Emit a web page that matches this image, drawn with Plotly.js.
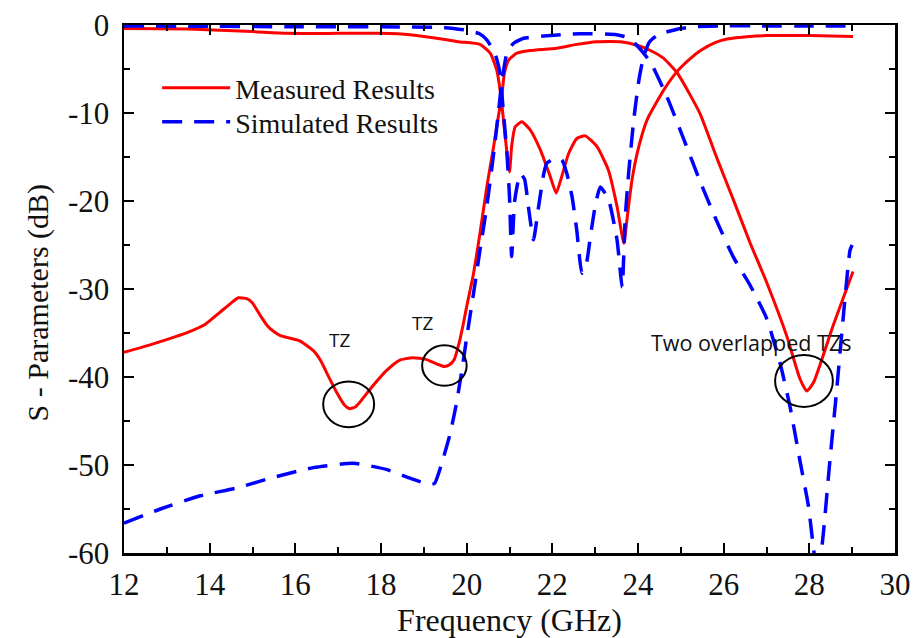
<!DOCTYPE html>
<html>
<head>
<meta charset="utf-8">
<script src="https://cdn.plot.ly/plotly-3.0.1.min.js"></script>
<style>html,body{margin:0;padding:0;background:#fff;}#chart{width:916px;height:638px;}</style>
</head>
<body>
<div id="chart"></div>
<script>
// Measured S21
const measS21Freq = [12, 12.7, 13.5, 13.9, 14.25, 14.5, 14.67, 14.87, 15.0, 15.18, 15.35, 15.49, 15.65, 15.8, 16.1, 16.42, 16.6, 16.73, 16.96, 17.15, 17.27, 17.4, 17.5, 17.81, 18.12, 18.43, 18.74, 19.05, 19.29, 19.48, 19.6, 19.71, 19.83, 19.92, 20.0, 20.15, 20.31, 20.47, 20.63, 20.74, 20.82, 20.88, 20.98, 21.17, 21.48, 22.1, 22.57, 23.04, 23.59, 23.98, 24.29, 24.6, 24.91, 25.2, 25.46, 25.84, 26.23, 26.62, 27.0, 27.47, 27.78, 27.94, 28.1, 28.56, 29.02];
const measS21dB = [-37.2, -36.2, -34.9, -34, -32.6, -31.6, -31.0, -31.1, -31.6, -33, -34.2, -34.8, -35.3, -35.5, -35.9, -37, -38.2, -39.5, -41.7, -43.2, -43.6, -43.4, -42.9, -41, -39.3, -38.1, -37.8, -38, -38.5, -38.8, -38.6, -38, -36, -34, -32, -28.5, -23.7, -18.4, -13.8, -10.4, -8.1, -5.5, -4.0, -3.2, -2.9, -2.65, -2.2, -1.9, -1.9, -2.3, -2.9, -3.8, -5.4, -7.8, -10.2, -15.1, -19.9, -24.8, -29.2, -35.3, -40.2, -41.6, -40.6, -34.1, -28];

// Measured S11
const measS11Freq = [12, 13.5, 15.0, 15.8, 17.0, 17.97, 18.68, 19.3, 19.8, 20.31, 20.55, 20.7, 20.8, 20.9, 21.0, 21.05, 21.13, 21.29, 21.48, 21.72, 21.95, 22.09, 22.22, 22.38, 22.57, 22.77, 23.04, 23.31, 23.51, 23.67, 23.74, 23.86, 24.02, 24.21, 24.6, 24.91, 25.2, 25.46, 25.8, 26.08, 26.6, 27.0, 28.0, 29.02];
const measS11dB = [-0.4, -0.45, -0.75, -0.95, -0.95, -0.95, -1.1, -1.5, -1.9, -2.2, -3.2, -5.1, -8.1, -12.7, -16.7, -13.8, -11.6, -11.0, -11.9, -14.2, -17.2, -19.1, -17.2, -14.6, -12.9, -12.6, -13.8, -16.5, -20.6, -24.8, -22.2, -17.6, -13.8, -10.8, -7.4, -5.3, -3.9, -2.9, -2.0, -1.6, -1.3, -1.2, -1.2, -1.3];

// Simulated S21
const simS21Freq = [12, 12.85, 13.78, 14.64, 15.49, 16.42, 17.35, 18.12, 18.74, 19.13, 19.25, 19.4, 19.6, 19.75, 19.87, 20.02, 20.16, 20.31, 20.47, 20.63, 20.74, 20.82, 20.94, 21.09, 21.33, 21.8, 22.65, 23.5, 23.74, 23.95, 24.13, 24.3, 24.68, 25.07, 25.46, 25.84, 26.23, 26.62, 27.0, 27.32, 27.55, 27.78, 27.98, 28.09, 28.2, 28.33, 28.48, 28.64, 28.79, 28.95, 29.0];
const simS21dB = [-56.6, -55, -53.5, -52.6, -51.4, -50.3, -49.8, -50.5, -51.6, -52.2, -52.1, -50.1, -46.7, -43.3, -39.8, -34.9, -30.5, -25.6, -20.6, -14.6, -10.0, -6.5, -3.2, -2.1, -1.5, -1.25, -1.0, -1.1, -1.4, -2.2, -3.2, -4.3, -8.2, -13, -17.9, -22.3, -26.4, -29.6, -33.3, -38.5, -43.4, -49.5, -54.7, -59.2, -63, -57.6, -49.5, -41.4, -33.3, -25.6, -25];

// Simulated S11
const simS11Freq = [12, 14, 16, 18, 19.5, 20.0, 20.3, 20.47, 20.66, 20.78, 20.84, 20.94, 21.0, 21.05, 21.12, 21.25, 21.35, 21.45, 21.56, 21.68, 21.8, 21.87, 22.05, 22.22, 22.34, 22.46, 22.57, 22.69, 22.8, 22.89, 23.0, 23.12, 23.31, 23.51, 23.63, 23.7, 23.78, 23.9, 24.02, 24.13, 24.27, 24.5, 24.66, 25.0, 25.28, 26, 27, 28, 29];
const simS11dB = [-0.1, -0.15, -0.2, -0.2, -0.3, -0.6, -1.0, -1.7, -3.2, -5.5, -8.9, -14.6, -19.5, -26.3, -20, -16.9, -17.5, -21, -24.4, -20.6, -16.9, -15.7, -15.2, -15.3, -16.9, -19.5, -23.3, -28.2, -27, -24, -20.6, -18.4, -19.8, -24.4, -29.8, -22, -16.9, -10.8, -6.3, -3.6, -1.9, -1.0, -0.8, -0.4, -0.2, -0.1, -0.1, -0.1, -0.1];

const legendNames = ["Measured Results", "Simulated Results"];
const xTitle = "Frequency (GHz)";
const yTitle = "S - Parameters (dB)";
const xTickVals = [12, 14, 16, 18, 20, 22, 24, 26, 28, 30];
const xTickText = ["12", "14", "16", "18", "20", "22", "24", "26", "28", "30"];
const yTickVals = [0, -10, -20, -30, -40, -50, -60];
const yTickText = ["0", "-10", "-20", "-30", "-40", "-50", "-60"];
const tzLabels = ["TZ", "TZ", "Two overlapped TZs"];
const tzLabelX = [17.04, 18.98, 26.64];
const tzLabelY = [-35.8, -33.9, -36.1];
const tzCircleX0 = [16.65, 18.96, 27.2];
const tzCircleX1 = [17.84, 20.0, 28.55];
const tzCircleY0 = [-45.7, -41.0, -43.4];
const tzCircleY1 = [-40.5, -36.4, -37.5];

const RED = 'rgb(255,0,0)';
const BLUE = 'rgb(0,0,255)';
const dashStyle = '20px,12px';
const smooth = 0.5;

const traces = [
  {x: measS21Freq, y: measS21dB, mode: 'lines', name: legendNames[0], legend: 'legend', line: {color: RED, width: 3, shape: 'spline', smoothing: smooth}, showlegend: true},
  {x: measS11Freq, y: measS11dB, mode: 'lines', name: legendNames[0], line: {color: RED, width: 3, shape: 'spline', smoothing: smooth}, showlegend: false},
  {x: simS21Freq, y: simS21dB, mode: 'lines', name: legendNames[1], legend: 'legend2', line: {color: BLUE, width: 3.5, dash: dashStyle, shape: 'spline', smoothing: smooth}, showlegend: true},
  {x: simS11Freq, y: simS11dB, mode: 'lines', name: legendNames[1], line: {color: BLUE, width: 3.5, dash: dashStyle, shape: 'spline', smoothing: smooth}, showlegend: false}
];

const serif = 'Liberation Serif';
const shapes = tzCircleX0.map((x0, i) => ({
  type: 'circle', xref: 'x', yref: 'y',
  x0: x0, x1: tzCircleX1[i], y0: tzCircleY0[i], y1: tzCircleY1[i],
  line: {color: 'black', width: 2}
}));
const annotations = tzLabels.map((t, i) => ({
  x: tzLabelX[i], y: tzLabelY[i], xref: 'x', yref: 'y', text: t, showarrow: false,
  font: {family: 'Open Sans', size: i === 2 ? 21.5 : 19, color: '#111'}
}));
annotations.push({
  xref: 'paper', yref: 'paper', x: -0.112, y: 0.474, xanchor: 'center', yanchor: 'middle',
  text: yTitle, textangle: -90, showarrow: false,
  font: {family: serif, size: 30, color: '#111'}
});

const legendBase = {
  xanchor: 'left', yanchor: 'middle',
  bgcolor: 'rgba(0,0,0,0)', itemwidth: 68,
  font: {family: serif, size: 28, color: '#111'}
};

const layout = {
  width: 916, height: 638,
  margin: {l: 124, r: 21, t: 25, b: 85},
  paper_bgcolor: 'white', plot_bgcolor: 'white',
  showlegend: true,
  legend: Object.assign({}, legendBase, {x: 0.043, y: (553 - 88) / 528}),
  legend2: Object.assign({}, legendBase, {x: 0.043, y: (553 - 122) / 528}),
  xaxis: {
    range: [12, 30], tickmode: 'array', tickvals: xTickVals, ticktext: xTickText,
    showgrid: false, zeroline: false,
    showline: true, linecolor: 'black', linewidth: 2.5, mirror: 'ticks',
    ticks: 'inside', ticklen: 10, tickwidth: 2, tickcolor: 'black',
    minor: {dtick: 1, tick0: 12, ticks: 'inside', ticklen: 6, tickwidth: 2, tickcolor: 'black', showgrid: false},
    tickfont: {family: serif, size: 31, color: '#111'},
    ticklabelstandoff: 2,
    title: {text: xTitle, font: {family: serif, size: 32, color: '#111'}, standoff: 2}
  },
  yaxis: {
    range: [-60, 0], tickmode: 'array', tickvals: yTickVals, ticktext: yTickText,
    showgrid: false, zeroline: false,
    showline: true, linecolor: 'black', linewidth: 2.5, mirror: 'ticks',
    ticks: 'inside', ticklen: 10, tickwidth: 2, tickcolor: 'black',
    minor: {dtick: 5, tick0: 0, ticks: 'inside', ticklen: 6, tickwidth: 2, tickcolor: 'black', showgrid: false},
    tickfont: {family: serif, size: 31, color: '#111'},
    ticklabelstandoff: 6
  },
  shapes: shapes,
  annotations: annotations
};

Plotly.newPlot('chart', traces, layout, {displayModeBar: false, staticPlot: true});
</script>
</body>
</html>
